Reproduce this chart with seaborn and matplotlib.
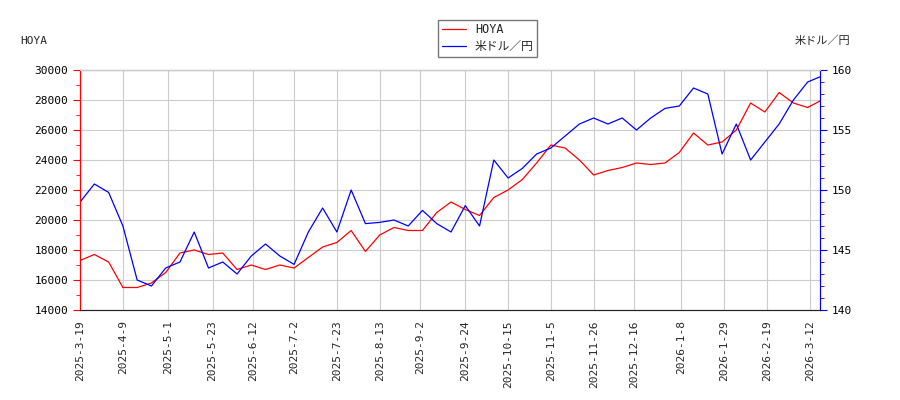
import pandas as pd
import matplotlib
matplotlib.use("Agg")
import matplotlib.pyplot as plt
from matplotlib.ticker import MultipleLocator
import seaborn as sns

# weekly readings from the reference
dates = pd.date_range("2025-03-19", periods=53, freq="7D")
hoya = [17300, 17700, 17200, 15500, 15500, 15800, 16500, 17800, 18000, 17700,
        17800, 16700, 17000, 16700, 17000, 16800, 17500, 18200, 18500, 19300,
        17900, 19000, 19500, 19300, 19300, 20500, 21200, 20700, 20300, 21500,
        22000, 22700, 23800, 25000, 24800, 24000, 23000, 23300, 23500, 23800,
        23700, 23800, 24500, 25800, 25000, 25200, 26000, 27800, 27200, 28500,
        27800, 27500, 28000]
usdjpy = [149.0, 150.5, 149.8, 147.0, 142.5, 142.0, 143.5, 144.0, 146.5, 143.5,
          144.0, 143.0, 144.5, 145.5, 144.5, 143.8, 146.5, 148.5, 146.5, 150.0,
          147.2, 147.3, 147.5, 147.0, 148.3, 147.2, 146.5, 148.7, 147.0, 152.5,
          151.0, 151.8, 153.0, 153.5, 154.5, 155.5, 156.0, 155.5, 156.0, 155.0,
          156.0, 156.8, 157.0, 158.5, 158.0, 153.0, 155.5, 152.5, 154.0, 155.5,
          157.5, 159.0, 159.5]
tick_dates = ["2025-3-19", "2025-4-9", "2025-5-1", "2025-5-23", "2025-6-12",
              "2025-7-2", "2025-7-23", "2025-8-13", "2025-9-2", "2025-9-24",
              "2025-10-15", "2025-11-5", "2025-11-26", "2025-12-16", "2026-1-8",
              "2026-1-29", "2026-2-19", "2026-3-12"]

df = pd.DataFrame({"date": dates, "hoya": hoya, "usdjpy": usdjpy})

sns.set_style("white")
plt.rcParams["font.family"] = ["DejaVu Sans Mono", "Noto Sans CJK JP"]
plt.rcParams["font.size"] = 8

fig, ax = plt.subplots(figsize=(9, 4), dpi=100)
fig.subplots_adjust(left=0.089, right=0.911, top=0.825, bottom=0.225)
ax2 = ax.twinx()

sns.lineplot(data=df, x="date", y="hoya", ax=ax, color="red", lw=0.9, label="HOYA", legend=False)
sns.lineplot(data=df, x="date", y="usdjpy", ax=ax2, color="blue", lw=0.9, label="米ドル／円", legend=False)

ax.set_ylim(14000, 30000)
ax2.set_ylim(140, 160)
ax.set_xlim(pd.Timestamp("2025-03-19"), pd.Timestamp("2026-03-17"))
ax.yaxis.set_major_locator(MultipleLocator(2000))
ax.yaxis.set_minor_locator(MultipleLocator(1000))
ax2.yaxis.set_major_locator(MultipleLocator(5))
ax2.yaxis.set_minor_locator(MultipleLocator(1))

ax.set_xticks(pd.to_datetime(tick_dates))
ax.set_xticklabels(tick_dates, rotation=90)
ax.grid(True, color="#cccccc", lw=0.8)
ax.set_xlabel("")
ax.set_ylabel("")
ax2.set_ylabel("")

ax.tick_params(axis="y", colors="red", which="both", direction="out", length=3)
ax.tick_params(axis="y", which="major", length=5)
ax2.tick_params(axis="y", colors="blue", which="both", length=3)
ax2.tick_params(axis="y", which="major", length=5)
ax.tick_params(axis="x", length=4)
for lab in ax.get_yticklabels():
    lab.set_color("black")
for lab in ax2.get_yticklabels():
    lab.set_color("black")
ax.spines["left"].set_color("red")
ax2.spines["left"].set_color("red")
ax2.spines["right"].set_color("blue")
ax2.spines["top"].set_color("#cccccc")

fig.text(0.022, 0.89, "HOYA", fontsize=8)
fig.text(0.945, 0.89, "米ドル／円", fontsize=8, ha="right")

h1, l1 = ax.get_legend_handles_labels()
h2, l2 = ax2.get_legend_handles_labels()
fig.legend(h1 + h2, l1 + l2, loc="upper center", bbox_to_anchor=(0.542, 0.965),
           fancybox=False, edgecolor="#555555", fontsize=8.5, handlelength=2,
           borderpad=0.3, labelspacing=0.3)

fig.savefig("out.png")
